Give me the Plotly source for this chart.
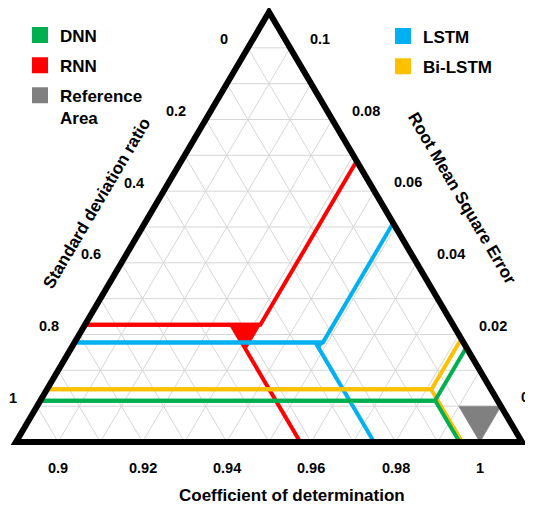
import plotly.graph_objects as go

# ---------------- data ----------------
models = ["RNN", "LSTM", "Bi-LSTM", "DNN"]
sd_ratio = [0.773, 0.822, 0.953, 0.985]
r2 = [0.9574, 0.9749, 0.9958, 0.9952]
rmse = [0.0684, 0.0511, 0.0188, 0.0164]
model_colors = ["#FF0000", "#00B0F0", "#FFC000", "#00B050"]

reference_name = "Reference<br>Area"
reference_sd = 1.0
reference_r2 = 1.0
reference_rmse = 0.0
reference_color = "#808080"

sd_ticks = [0, 0.2, 0.4, 0.6, 0.8, 1]
sd_ticklabels = ["0", "0.2", "0.4", "0.6", "0.8", "1"]
r2_ticks = [0.9, 0.92, 0.94, 0.96, 0.98, 1]
r2_ticklabels = ["0.9", "0.92", "0.94", "0.96", "0.98", "1"]
rmse_ticks = [0.1, 0.08, 0.06, 0.04, 0.02, 0]
rmse_ticklabels = ["0.1", "0.08", "0.06", "0.04", "0.02", "0"]

legend_left = ["DNN", "RNN", "Reference"]
legend_right = ["LSTM", "Bi-LSTM"]

# ---------------- triangular scales ----------------
N = 12  # grid divisions


def a_of_sd(v):      # horizontal lines, read on left edge
    return 11 - 10 * v


def b_of_r2(v):      # lines parallel to right edge, read on bottom
    return 11 - 100 * (v - 0.9)


def c_of_rmse(v):    # lines parallel to left edge, read on right edge
    return 11 - 100 * v


def to_xy(p):
    a, b, c = p
    return c + a / 2.0, a


# figure geometry (window pixels); the page body has an 8px margin
OFF = 8
WIN_W, WIN_H = 533, 507
W, H = WIN_W - OFF, WIN_H - OFF
LEFT_PX, RIGHT_PX, BOTTOM_PX, TOP_PX = 16, 522, 442, 12
ux = (RIGHT_PX - LEFT_PX) / N
uy = (BOTTOM_PX - TOP_PX) / N
x_range = [(OFF - LEFT_PX) / ux, (WIN_W - LEFT_PX) / ux]
y_range = [-(WIN_H - BOTTOM_PX) / uy, (BOTTOM_PX - OFF) / uy]


def px_to_data(px, py):
    return (px - LEFT_PX) / ux, (BOTTOM_PX - py) / uy


def paper(px, py):
    return (px - OFF) / W, 1 - (py - OFF) / H


FONT = "Liberation Sans, Arial, sans-serif"

fig = go.Figure()

# ---------------- grid ----------------
gx, gy = [], []
for k in range(1, N):
    for p, q in [((k, N - k, 0), (k, 0, N - k)),
                 ((0, k, N - k), (N - k, k, 0)),
                 ((0, N - k, k), (N - k, 0, k))]:
        x0, y0 = to_xy(p)
        x1, y1 = to_xy(q)
        gx += [x0, x1, None]
        gy += [y0, y1, None]
fig.add_trace(go.Scatter(x=gx, y=gy, mode="lines", line=dict(color="#d6d6d6", width=1),
                         hoverinfo="skip", showlegend=False))


def triangle_points(sd, r2v, rm):
    a0, b0, c0 = a_of_sd(sd), b_of_r2(r2v), c_of_rmse(rm)
    p_ab = (a0, b0, N - a0 - b0)
    p_ac = (a0, N - a0 - c0, c0)
    p_bc = (N - b0 - c0, b0, c0)
    return a0, b0, c0, p_ab, p_ac, p_bc


# ---------------- reference area ----------------
_, _, _, r_ab, r_ac, r_bc = triangle_points(reference_sd, reference_r2, reference_rmse)
rx, ry = zip(*[to_xy(p) for p in [r_ab, r_ac, r_bc, r_ab]])
fig.add_trace(go.Scatter(x=list(rx), y=list(ry), mode="lines", fill="toself",
                         fillcolor=reference_color, line=dict(color=reference_color, width=0.5),
                         hoverinfo="skip", showlegend=False))

# ---------------- model lines ----------------
for name, sd, r2v, rm, col in zip(models, sd_ratio, r2, rmse, model_colors):
    a0, b0, c0, p_ab, p_ac, p_bc = triangle_points(sd, r2v, rm)
    start_a = (a0, N - a0, 0)
    start_b = (0, b0, N - b0)
    start_c = (N - c0, 0, c0)
    end_b = max([p_ab, p_bc], key=lambda p: p[0])
    end_a = max([p_ab, p_ac], key=lambda p: p[2])
    pts = [start_a, p_ac, start_c, None, start_b, end_b, None, start_a, end_a]
    xs, ys = [], []
    for p in pts:
        if p is None:
            xs.append(None)
            ys.append(None)
        else:
            x, y = to_xy(p)
            xs.append(x)
            ys.append(y)
    fig.add_trace(go.Scatter(x=xs, y=ys, mode="lines", line=dict(color=col, width=4),
                             legendgroup=name, showlegend=False, hoverinfo="skip"))
    tx, ty = zip(*[to_xy(p) for p in [p_ab, p_ac, p_bc, p_ab]])
    fig.add_trace(go.Scatter(x=list(tx), y=list(ty), mode="lines", fill="toself",
                             fillcolor=col, line=dict(color=col, width=1),
                             legendgroup=name, showlegend=False, hoverinfo="skip"))

# ---------------- outer triangle ----------------
corners = [to_xy((0, N, 0)), to_xy((0, 0, N)), to_xy((N, 0, 0))]
path = "M {} {} L {} {} L {} {} Z".format(*[v for c in corners for v in c])
fig.add_shape(type="path", path=path, xref="x", yref="y",
              line=dict(color="black", width=6), layer="above")

# ---------------- tick labels ----------------
tick_font = dict(family=FONT, size=14.5, color="black", weight="bold")
for v, t in zip(sd_ticks, sd_ticklabels):
    a = a_of_sd(v)
    x, y = to_xy((a, N - a, 0))
    fig.add_annotation(x=x, y=y, text=t, showarrow=False, xanchor="right", yanchor="middle",
                       xshift=-18, yshift=8.5, font=tick_font)
for v, t in zip(rmse_ticks, rmse_ticklabels):
    c = c_of_rmse(v)
    x, y = to_xy((N - c, 0, c))
    fig.add_annotation(x=x, y=y, text=t, showarrow=False, xanchor="left", yanchor="middle",
                       xshift=18, yshift=9, font=tick_font)
for v, t in zip(r2_ticks, r2_ticklabels):
    b = b_of_r2(v)
    x, y = to_xy((0, b, N - b))
    fig.add_annotation(x=x, y=y, text=t, showarrow=False, xanchor="center", yanchor="middle",
                       yshift=-25.5, font=tick_font)

# ---------------- axis titles ----------------
title_font = dict(family=FONT, size=17, color="black", weight="bold")
for text, (px, py), ang in [("Coefficient of determination", (291.5, 495.5), 0),
                            ("Standard deviation ratio", (96.5, 203), -59.5),
                            ("Root Mean Square Error", (462, 198.5), 59.5)]:
    x, y = px_to_data(px, py)
    fig.add_annotation(x=x, y=y, text=text, showarrow=False, textangle=ang,
                       xanchor="center", yanchor="middle", font=title_font)

# ---------------- legends ----------------
legend_map = {"DNN": ("legend", model_colors[models.index("DNN")], "DNN"),
              "RNN": ("legend", model_colors[models.index("RNN")], "RNN"),
              "Reference": ("legend", reference_color, reference_name),
              "LSTM": ("legend2", model_colors[models.index("LSTM")], "LSTM"),
              "Bi-LSTM": ("legend2", model_colors[models.index("Bi-LSTM")], "Bi-LSTM")}
for key in legend_left + legend_right:
    leg, col, label = legend_map[key]
    fig.add_trace(go.Scatter(x=[None], y=[None], mode="markers", name=label,
                             marker=dict(symbol="square", size=16, color=col),
                             legend=leg, legendgroup=key, showlegend=True))

leg_font = dict(family=FONT, size=17, color="black", weight="bold")
lx, ly = paper(20, 17.5)
l2x, l2y = paper(383, 18.5)
fig.update_layout(
    width=W, height=H,
    margin=dict(l=0, r=0, t=0, b=0),
    paper_bgcolor="white", plot_bgcolor="white",
    xaxis=dict(range=x_range, visible=False, fixedrange=True),
    yaxis=dict(range=y_range, visible=False, fixedrange=True),
    legend=dict(x=lx, y=ly, xanchor="left", yanchor="top", font=leg_font,
                bgcolor="rgba(0,0,0,0)", tracegroupgap=5, itemsizing="trace",
                valign="top", traceorder="grouped"),
    legend2=dict(x=l2x, y=l2y, xanchor="left", yanchor="top", font=leg_font,
                 bgcolor="rgba(0,0,0,0)", tracegroupgap=5, itemsizing="trace",
                 valign="top", traceorder="grouped"),
    showlegend=True,
)

fig.write_html("out.html", config={"displayModeBar": False})
